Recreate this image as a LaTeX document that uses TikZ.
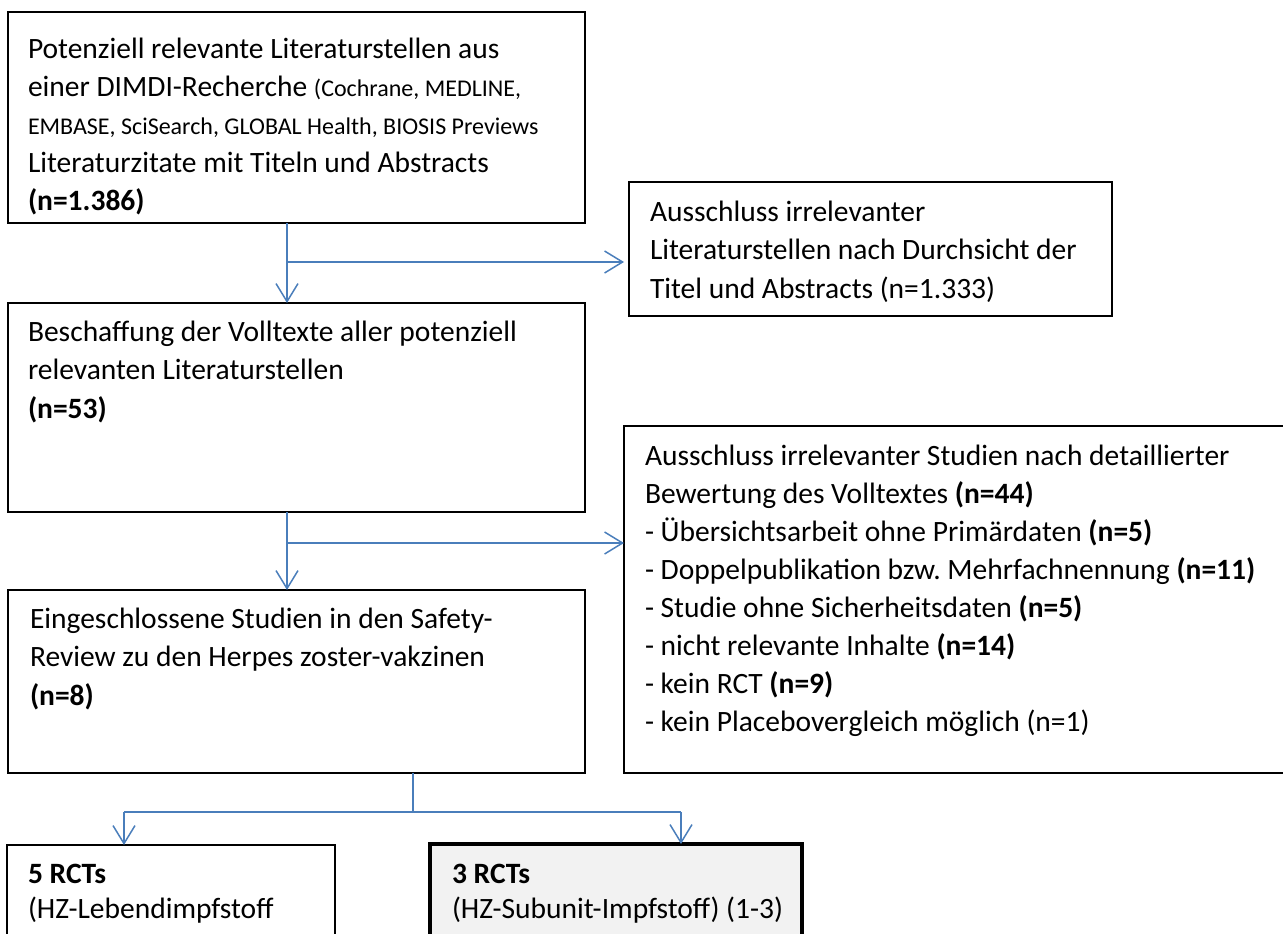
\documentclass[tikz,border=0pt]{standalone}
\usepackage{fontspec}
\setmainfont{Carlito}
\usetikzlibrary{arrows.meta}
\definecolor{connblue}{RGB}{74,126,187}
\definecolor{boxgray}{RGB}{242,242,242}
\newcommand{\mainsz}{\fontsize{29.5}{38.5}\selectfont}
\newcommand{\smallsz}{\fontsize{24}{38}\selectfont}
\frenchspacing
\begin{document}
\frenchspacing
\begin{tikzpicture}[x=1pt,y=-1pt,
  box/.style={draw=black, line width=1.3pt, anchor=north west, inner sep=0pt, outer sep=0pt},
  thickbox/.style={box, line width=3.5pt, fill=boxgray},
  txt/.style={anchor=base west, inner sep=0pt, outer sep=0pt, align=left, font=\mainsz\frenchspacing},
  conn/.style={draw=connblue, line width=1.5pt},
  arr/.style={conn, -{Straight Barb[length=18pt,width=22pt,line width=1.5pt]}}
]
\useasboundingbox (0,0) rectangle (1283,934);
\clip (0,0) rectangle (1283,934);

% boxes
\node[box, minimum width=577pt, minimum height=211pt] (b1) at (8,12) {};
\node[box, minimum width=483pt, minimum height=134pt] (b2) at (629,182) {};
\node[box, minimum width=577pt, minimum height=209pt] (b3) at (8,303) {};
\node[box, minimum width=700pt, minimum height=347pt] (b4) at (624,426) {};
\node[box, minimum width=577pt, minimum height=183pt] (b5) at (8,590) {};
\node[box, minimum width=328pt, minimum height=150pt] (b6) at (7,845) {};
\node[thickbox, minimum width=372pt, minimum height=150pt] (b7) at (430,844) {};

% texts (anchor = baseline of the last line)
\node[txt, font=\fontsize{29.5}{38}\selectfont\frenchspacing] (t1) at (28,210) {Potenziell relevante Literaturstellen aus\\
einer DIMDI-Recherche {\smallsz (Cochrane, MEDLINE,}\\
{\smallsz EMBASE, SciSearch, GLOBAL Health, BIOSIS Previews}\\
Literaturzitate mit Titeln und Abstracts\\
\textbf{(n=1.386)}};
\node[txt] (t2) at (650,298) {Ausschluss irrelevanter\\
Literaturstellen nach Durchsicht der\\
Titel und Abstracts (n=1.333)};
\node[txt] (t3) at (28,418) {Beschaffung der Volltexte aller potenziell\\
relevanten Literaturstellen\\
\textbf{(n=53)}};
\node[txt, font=\fontsize{29.5}{38}\selectfont\frenchspacing] (t4) at (645,731) {Ausschluss irrelevanter Studien nach detaillierter\\
Bewertung des Volltextes \textbf{(n=44)}\\
- Übersichtsarbeit ohne Primärdaten \textbf{(n=5)}\\
- Doppelpublikation bzw.\ Mehrfachnennung \textbf{(n=11)}\\
- Studie ohne Sicherheitsdaten \textbf{(n=5)}\\
- nicht relevante Inhalte \textbf{(n=14)}\\
- kein RCT \textbf{(n=9)}\\
- kein Placebovergleich möglich (n=1)};
\node[txt] (t5) at (30,705) {Eingeschlossene Studien in den Safety-\\
Review zu den Herpes zoster-vakzinen\\
\textbf{(n=8)}};
\node[txt, font=\fontsize{29.5}{35}\selectfont\frenchspacing] (t6) at (28,918) {\textbf{5 RCTs}\\
(HZ-Lebendimpfstoff};
\node[txt, font=\fontsize{29.5}{35}\selectfont\frenchspacing] (t7) at (452,918) {\textbf{3 RCTs}\\
(HZ-Subunit-Impfstoff) (1-3)};

% connectors
\coordinate (j1) at (287,262);
\coordinate (j2) at (287,543);
\coordinate (j3) at (413,812);
\coordinate (l3) at (124,812);
\coordinate (r3) at (681,812);

\draw[conn] (b1.south -| j1) -- (j1);
\draw[arr] (j1) -- (b3.north -| j1);
\draw[arr, shorten >=5pt] (j1) -- (b2.west |- j1);

\draw[conn] (b3.south -| j2) -- (j2);
\draw[arr] (j2) -- (b5.north -| j2);
\draw[arr] (j2) -- (b4.west |- j2);

\draw[conn] (b5.south -| j3) -- (j3);
\draw[conn] (l3) -- (r3);
\draw[arr] (l3) -- (b6.north -| l3);
\draw[arr] (r3) -- (b7.north -| r3);
\end{tikzpicture}
\end{document}
